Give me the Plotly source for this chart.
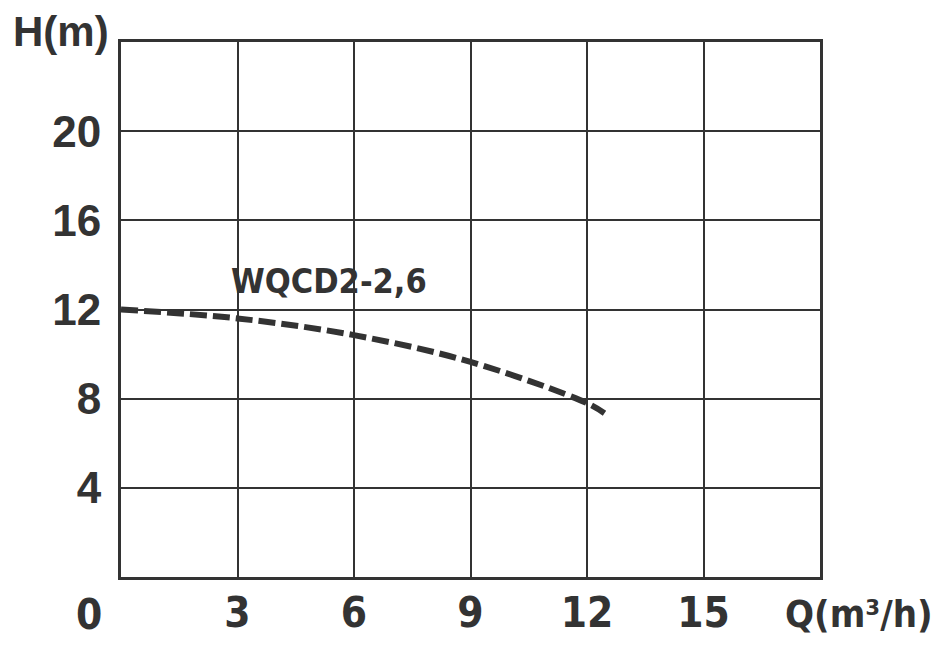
import plotly.graph_objects as go

# pump curve WQCD2-2,6
flow = [0, 3, 6, 9, 12, 12.45]
head = [12.0, 11.6, 10.85, 9.65, 7.8, 7.35]
curve_name = "WQCD2-2,6"

x_ticks = [0, 3, 6, 9, 12, 15, 18]
x_labels = ["", "3", "6", "9", "12", "15", ""]
y_ticks = [0, 4, 8, 12, 16, 20, 24]
y_labels = ["", "4", "8", "12", "16", "20", ""]

ink = "#333333"
narrow = "DejaVu Sans Condensed, Liberation Sans Narrow, Roboto Condensed, Roboto, sans-serif"

fig = go.Figure()
fig.add_trace(go.Scatter(
    x=flow, y=head, mode="lines", line_shape="spline",
    line=dict(color=ink, width=6, dash="17px,6px"),
    showlegend=False,
))

fig.add_annotation(x=5.35, y=13.3, text=curve_name, showarrow=False,
                   font=dict(family=narrow, size=34, color=ink, weight="bold"))
fig.add_annotation(x=0, y=0, text="0", showarrow=False, xshift=-32, yshift=-37,
                   font=dict(family=narrow, size=42, color=ink, weight="bold"))
fig.add_annotation(x=18, y=0, text="Q(m³/h)", showarrow=False, xanchor="right",
                   xshift=115, yshift=-37,
                   font=dict(family=narrow, size=38, color=ink, weight="bold"))
fig.add_annotation(x=0, y=24, text="H(m)", showarrow=False, xshift=-60, yshift=11,
                   font=dict(family="Liberation Sans", size=42, color=ink, weight="bold"))

fig.update_xaxes(range=[0, 18], tickvals=x_ticks, ticktext=x_labels, automargin=False,
                 showgrid=True, gridcolor=ink, gridwidth=2, zeroline=False,
                 showline=True, linecolor=ink, linewidth=3, mirror=True,
                 ticks="", ticklabelstandoff=-3,
                 tickfont=dict(family=narrow, size=42, color=ink, weight="bold"))
fig.update_yaxes(range=[0, 24], tickvals=y_ticks, ticktext=y_labels, automargin=False,
                 showgrid=True, gridcolor=ink, gridwidth=2, zeroline=False,
                 showline=True, linecolor=ink, linewidth=3, mirror=True,
                 ticks="outside", ticklen=8, tickcolor="rgba(0,0,0,0)",
                 tickfont=dict(family="Liberation Sans", size=44, color=ink, weight="bold"))

fig.update_layout(width=946, height=647, plot_bgcolor="white", paper_bgcolor="white",
                  margin=dict(l=113, r=134, t=34, b=78))
fig.write_html("out.html")
